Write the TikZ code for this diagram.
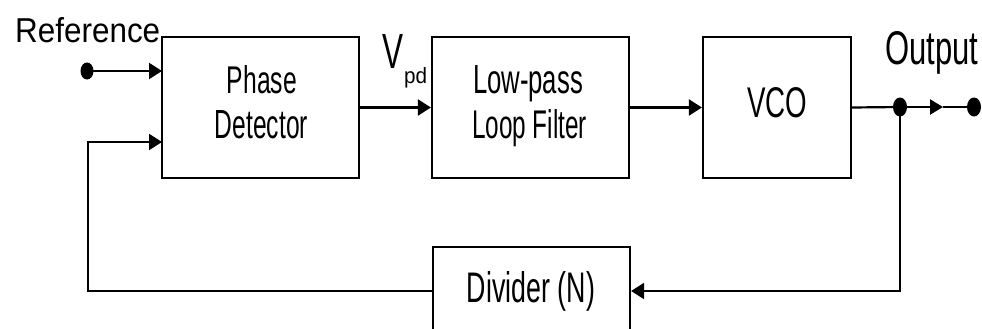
\documentclass[tikz,border=0pt]{standalone}
\usepackage{fontspec}
\setmainfont{Liberation Sans}
\usetikzlibrary{arrows.meta,shapes.geometric}
\tikzset{
  blk/.style={draw, line width=2.2pt, rectangle, inner sep=0pt},
  txt/.style={inner sep=0pt, anchor=base},
  txtw/.style={inner sep=0pt, anchor=base west},
  wire/.style={line width=2.2pt},
  arr/.style={wire, -{Triangle[length=13pt,width=16pt]}},
  dotn/.style={fill, ellipse, inner sep=0pt, minimum width=13pt, minimum height=17pt},
}
\newcommand{\RB}[3]{\resizebox{#1pt}{#2pt}{#3}}
\begin{document}
\begin{tikzpicture}[x=1pt,y=-1pt]
\useasboundingbox (0,0) rectangle (982,329);
\clip (0,0) rectangle (982,329);
% blocks
\node[blk, minimum width=197pt, minimum height=141pt] (pd) at (260.5,107.5) {};
\node[blk, minimum width=197pt, minimum height=141pt] (lpf) at (530.5,107.5) {};
\node[blk, minimum width=148pt, minimum height=141pt] (vco) at (777,107.5) {};
\node[blk, minimum width=197pt, minimum height=100pt] (div) at (531.5,297) {};
% texts
\node[txt] (pdt1) at (262,93) {\RB{70}{28}{Phase}};
\node[txt] (pdt2) at (261.5,138) {\RB{93}{28}{Detector}};
\node[txt] (lpt1) at (528,93) {\RB{110}{28}{Low-pass}};
\node[txt] (lpt2) at (529.5,138) {\RB{115}{29}{Loop Filter}};
\node[txt] (vcot) at (777,117) {\RB{60}{30}{VCO}};
\node[txt] (divt) at (531,302) {\RB{128}{31}{Divider (N)}};
\node[txtw] (reft) at (15,42) {\RB{145}{25}{Reference}};
\node[txtw] (outt) at (885,64) {\RB{93}{33}{Output}};
\node[txtw] (vt) at (382,68) {\RB{21}{34}{V}};
\node[txtw] (pdsub) at (404,83) {\RB{23}{16}{pd}};
% terminals
\node[dotn] (refin) at (87,71) {};
\node[dotn, minimum width=14pt, minimum height=19pt] (tap) at (900,107) {};
\node[dotn, minimum width=14pt, minimum height=19pt] (outp) at (974,107) {};
\coordinate (pdin1) at (162,71);
\coordinate (pdin2) at (162,142);
\coordinate (fbl) at (88,291);
\coordinate (fbr) at (900,291);
\coordinate (mid) at (943,107);
% connectors
\draw[arr] (refin.center) -- (pdin1);
\draw[arr] (div.west |- fbl) -- (fbl) |- (pdin2);
\draw[arr] (pd.east) -- (lpf.west);
\draw[arr] (lpf.east) -- (vco.west);
\draw[wire] (vco.east) -- (tap.center);
\draw[wire, -{Triangle[length=13pt,width=15pt]}] (tap.center) -- (mid);
\draw[wire] (mid) -- (outp.center);
\draw[arr] (tap.center) -- (fbr) -- (div.east |- fbr);
\end{tikzpicture}
\end{document}
